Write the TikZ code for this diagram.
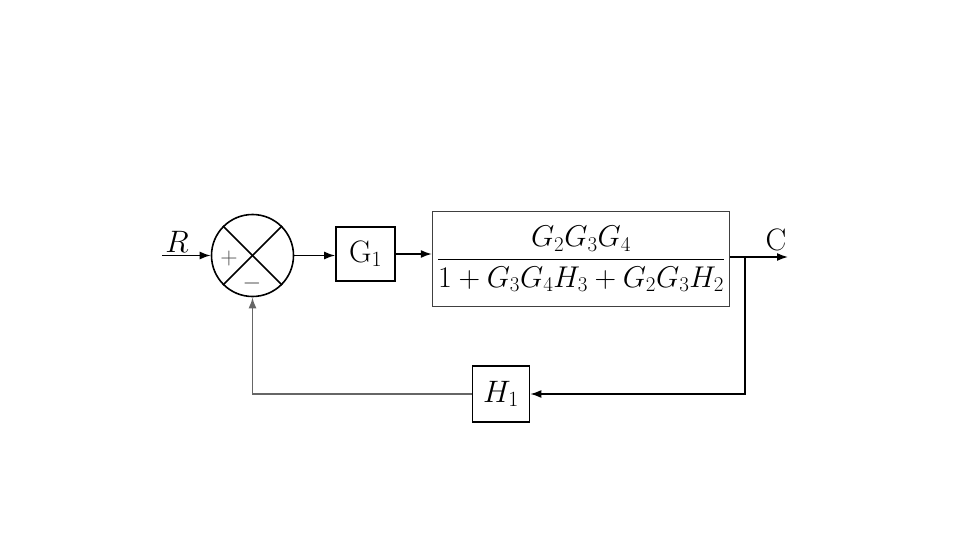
\RequirePackage{fix-cm}
\documentclass[tikz,border=0pt]{standalone}
\usetikzlibrary{arrows.meta}
\begin{document}
\begin{tikzpicture}[x=1pt,y=-1pt,
  line width=1.6pt,
  arr/.style={-{Latex[length=11pt,width=8pt]}},
  blk/.style={draw,inner sep=0pt},
  lbl/.style={inner sep=0pt,font=\fontsize{31}{34}\selectfont}]
\useasboundingbox (0,0) rectangle (960,540);
\node[circle,draw,minimum size=82pt,inner sep=0pt] (sum) at (252.5,255.5) {};
\draw (sum.north west) -- (sum.south east);
\draw (sum.north east) -- (sum.south west);
\node[inner sep=0pt,font=\fontsize{24}{26}\selectfont,text=black!70] (plus) at (229,258) {$+$};
\node[inner sep=0pt,font=\fontsize{24}{26}\selectfont,text=black!70] (minus) at (252,283) {$-$};
\node[blk,minimum width=59pt,minimum height=54pt,font=\fontsize{31}{34}\selectfont] (g1) at (365.5,254) {$\mathrm{G}_1$};
\node[blk,draw=black!75,line width=1.3pt,minimum width=297pt,minimum height=95pt,font=\fontsize{30}{34}\selectfont] (big) at (581,259) {$\displaystyle\frac{G_2G_3G_4}{1+G_3G_4H_3+G_2G_3H_2}$};
\node[blk,minimum width=57pt,minimum height=56pt,font=\fontsize{31}{34}\selectfont] (h1) at (501,394) {$H_1$};
\coordinate (rin) at (162,255.5);
\coordinate (cout) at (788,257);
\coordinate (br) at (745,257);
\node[lbl] (R) at (177,242) {$R$};
\node[lbl] (C) at (776,240) {$\mathrm{C}$};
\draw[arr] (rin) -- (sum.west);
\draw[arr] (sum.east) -- (sum.east -| g1.west);
\draw[arr] (g1.east) -- (g1.east -| big.west);
\draw[arr] (big.east |- cout) -- (cout);
\draw[arr] (br) |- (h1.east);
\draw[arr,draw=black!60] (h1.west) -| (sum.south);
\end{tikzpicture}
\end{document}
